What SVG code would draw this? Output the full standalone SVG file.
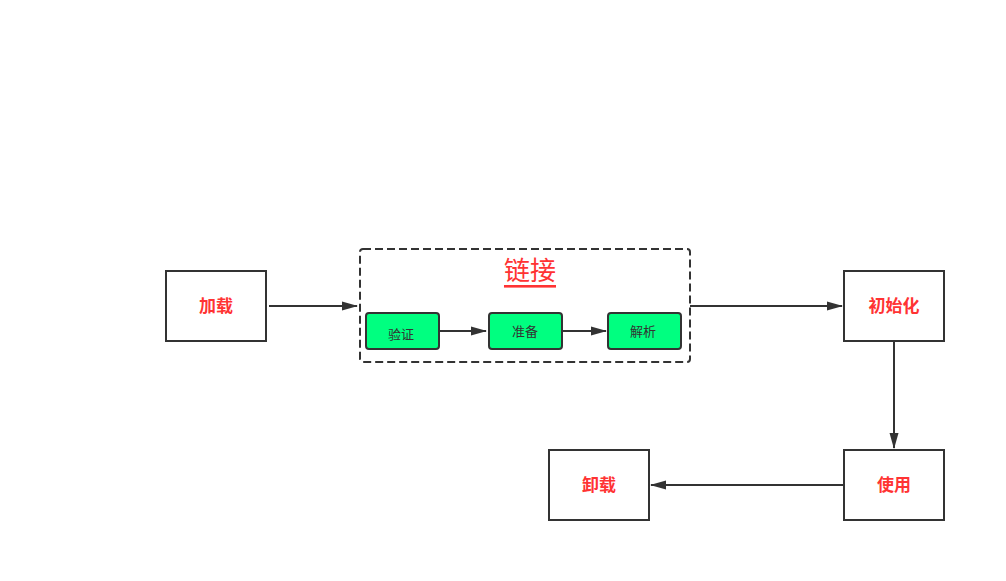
<svg xmlns="http://www.w3.org/2000/svg" width="1006" height="581" viewBox="0 0 1006 581">
<style>
.box{fill:#fff;stroke:#333;stroke-width:2}
.g{fill:#00FF80;stroke:#333;stroke-width:2}
.lbl{font-family:"Liberation Sans","Noto Sans CJK SC",sans-serif;font-size:17px;font-weight:bold;fill:#FF3333;text-anchor:middle;dominant-baseline:central}
.sl{font-family:"Liberation Sans","Noto Sans CJK SC",sans-serif;font-size:13px;fill:#333;text-anchor:middle;dominant-baseline:central}
.ln{stroke:#333;stroke-width:2;fill:none}
</style>
<defs>
<marker id="ah" markerWidth="10" markerHeight="10" refX="9" refY="5" orient="auto" markerUnits="userSpaceOnUse" viewBox="0 0 10 10">
<path d="M0,1 L10,5 L0,9 Z" fill="#333"/>
</marker>
<marker id="ah2" markerWidth="16" markerHeight="10" refX="15" refY="5" orient="auto" markerUnits="userSpaceOnUse" viewBox="0 0 16 10">
<path d="M0,0.5 L16,5 L0,9.5 Z" fill="#333"/>
</marker>
</defs>
<rect width="1006" height="581" fill="#fff"/>
<g id="connectors">
<path class="ln" d="M269,306 L357,306" marker-end="url(#ah2)"/>
<path class="ln" d="M690,306 L842,306" marker-end="url(#ah2)"/>
<path class="ln" d="M894,341 L894,448" marker-end="url(#ah2)"/>
<path class="ln" d="M844,485 L651,485" marker-end="url(#ah2)"/>
<path class="ln" d="M439,331 L486,331" marker-end="url(#ah2)"/>
<path class="ln" d="M562,331 L606,331" marker-end="url(#ah2)"/>
</g>
<g id="load"><rect class="box" x="166" y="271" width="100" height="70"/><text class="lbl" x="216" y="306">加载</text></g>
<g id="link">
<rect x="360" y="249" width="330" height="113" rx="3" fill="none" stroke="#333" stroke-width="2" stroke-dasharray="8,4"/>
<text x="530" y="271" font-family="Liberation Sans,'Noto Sans CJK SC',sans-serif" font-size="26" fill="#FF3333" text-anchor="middle" dominant-baseline="central" text-decoration="underline">链接</text>
</g>
<g id="verify"><rect class="g" x="366" y="313" width="73" height="36" rx="3"/><text class="sl" x="401" y="334">验证</text></g>
<g id="prepare"><rect class="g" x="489" y="313" width="73" height="36" rx="3"/><text class="sl" x="525" y="331">准备</text></g>
<g id="resolve"><rect class="g" x="608" y="313" width="73" height="36" rx="3"/><text class="sl" x="643" y="331">解析</text></g>
<g id="init"><rect class="box" x="844" y="271" width="100" height="70"/><text class="lbl" x="894" y="306">初始化</text></g>
<g id="use"><rect class="box" x="844" y="450" width="100" height="70"/><text class="lbl" x="894" y="485">使用</text></g>
<g id="unload"><rect class="box" x="549" y="450" width="100" height="70"/><text class="lbl" x="599" y="485">卸载</text></g>
</svg>
